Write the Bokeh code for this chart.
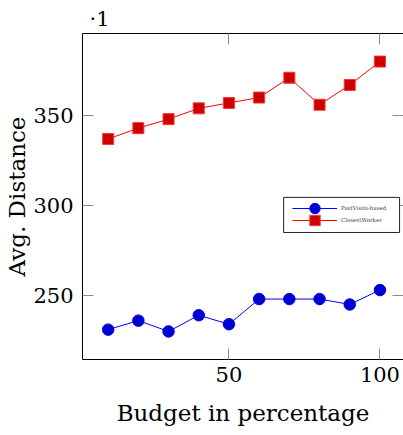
from bokeh.plotting import figure
from bokeh.models import (Range1d, LinearAxis, FixedTicker, Legend, LegendItem,
                          BoxAnnotation)
from bokeh.embed import file_html
from bokeh.resources import INLINE

budget = [10, 20, 30, 40, 50, 60, 70, 80, 90, 100]
past_visits = [231, 236, 230, 239, 234, 248, 248, 248, 245, 253]
closest_worker = [337, 343, 348, 354, 357, 360, 371, 356, 367, 380]
x_ticks = [50, 100]
y_ticks = [250, 300, 350]

FONT = "DejaVu Serif"

p = figure(width=403, height=435, output_backend="svg", toolbar_location=None,
           x_range=Range1d(1.5, 107.8), y_range=Range1d(214.4, 395.6),
           min_border_left=82, min_border_right=0, min_border_top=33,
           min_border_bottom=76, x_axis_label="Budget in percentage",
           y_axis_label="Avg. Distance", title="·1")
p.grid.visible = False
p.outline_line_color = None
p.background_fill_color = "white"
p.border_fill_color = "white"

p.title.align = "left"
p.title.offset = 7
p.title.text_font = FONT
p.title.text_font_size = "21px"
p.title.text_font_style = "normal"
p.title.text_color = "black"
p.title.standoff = 6

for ax in (p.xaxis[0], p.yaxis[0]):
    ax.axis_line_color = "black"
    ax.axis_line_width = 1
    ax.major_tick_in = 11
    ax.major_tick_out = 0
    ax.minor_tick_in = 0
    ax.minor_tick_out = 0
    ax.major_tick_line_color = "#8c8c8c"
    ax.major_label_text_font = FONT
    ax.major_label_text_font_size = "21px"
    ax.major_label_text_color = "black"
    ax.axis_label_text_font = FONT
    ax.axis_label_text_font_size = "23px"
    ax.axis_label_text_font_style = "normal"
    ax.axis_label_text_color = "black"

p.xaxis[0].ticker = FixedTicker(ticks=x_ticks)
p.yaxis[0].ticker = FixedTicker(ticks=y_ticks)
p.xaxis[0].major_label_standoff = 7
p.xaxis[0].axis_label_standoff = 15
p.yaxis[0].major_label_standoff = 9
p.yaxis[0].axis_label_standoff = 0

top = LinearAxis(ticker=FixedTicker(ticks=x_ticks),
                 major_label_overrides={t: "" for t in x_ticks},
                 major_tick_in=11, major_tick_out=0, minor_tick_in=0, minor_tick_out=0,
                 major_tick_line_color="#8c8c8c", axis_line_color="black",
                 major_label_standoff=0)
p.add_layout(top, "above")
right = LinearAxis(ticker=FixedTicker(ticks=y_ticks),
                   major_label_overrides={t: "" for t in y_ticks},
                   major_tick_in=11, major_tick_out=0, minor_tick_in=0, minor_tick_out=0,
                   major_tick_line_color="#8c8c8c", axis_line_color=None,
                   major_label_standoff=0)
p.add_layout(right, "right")

l1 = p.line(budget, past_visits, line_color="#0000ff", line_width=1)
m1 = p.scatter(budget, past_visits, marker="circle", size=11.5,
               fill_color="#0000cc", line_color="#0000ff", line_width=1)
l2 = p.line(budget, closest_worker, line_color="#ff0000", line_width=1)
m2 = p.scatter(budget, closest_worker, marker="square", size=11,
               fill_color="#cc0000", line_color="#ff3333", line_width=1)

# legend frame
p.add_layout(BoxAnnotation(left=68.1, right=106.5, top=304.5, bottom=285.0,
                           fill_color="white", fill_alpha=1.0,
                           line_color="#222222", line_width=1, line_alpha=1.0))

common = dict(orientation="vertical", glyph_width=45, glyph_height=26, spacing=0,
              padding=0, margin=0, label_standoff=4, label_text_font=FONT,
              label_text_font_size="5.5px", label_height=12,
              border_line_color=None, background_fill_alpha=0.0)
leg1 = Legend(items=[LegendItem(label="PastVisits-based", renderers=[l1, m1])],
              location=(210, 138), **common)
leg2 = Legend(items=[LegendItem(label="ClosestWorker", renderers=[l2, m2])],
              location=(210, 126), **common)
p.add_layout(leg1, "center")
p.add_layout(leg2, "center")

open("out.html", "w").write(file_html(p, INLINE))
